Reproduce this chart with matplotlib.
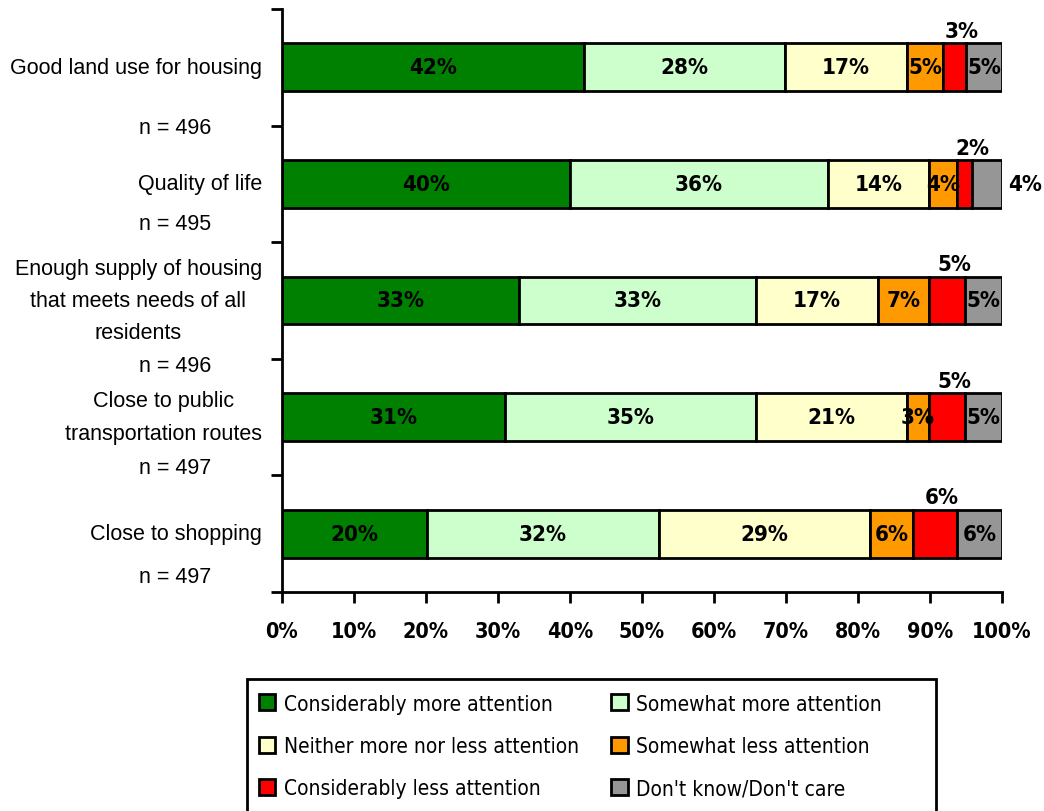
import matplotlib
matplotlib.use("Agg")
import matplotlib.pyplot as plt
from matplotlib.patches import Patch, Rectangle
import numpy as np

categories = [
    "Good land use for housing",
    "Quality of life",
    "Enough supply of housing\nthat meets needs of all\nresidents",
    "Close to public\ntransportation routes",
    "Close to shopping",
]
n_labels = ["n = 496", "n = 495", "n = 496", "n = 497", "n = 497"]
series_names = [
    "Considerably more attention",
    "Somewhat more attention",
    "Neither more nor less attention",
    "Somewhat less attention",
    "Considerably less attention",
    "Don't know/Don't care",
]
considerably_more = [41.9, 40.0, 32.9, 31.0, 20.1]
somewhat_more = [28.0, 35.8, 32.9, 34.8, 32.3]
neither = [16.9, 14.1, 17.0, 21.0, 29.3]
somewhat_less = [5.0, 3.9, 7.1, 3.1, 5.9]
considerably_less = [3.2, 2.1, 5.0, 5.0, 6.1]
dont_know = [5.0, 4.1, 5.1, 5.1, 6.3]
x_ticks = [0, 10, 20, 30, 40, 50, 60, 70, 80, 90, 100]
x_tick_labels = ["0%", "10%", "20%", "30%", "40%", "50%", "60%", "70%", "80%", "90%", "100%"]

series = [considerably_more, somewhat_more, neither, somewhat_less, considerably_less, dont_know]
colors = ["#008000", "#CCFFCC", "#FFFFCC", "#FF9900", "#FF0000", "#969696"]

NARROW = dict(family="DejaVu Sans", stretch="condensed")
REG = ["Liberation Sans", "DejaVu Sans"]
W, H = 1044, 812

fig = plt.figure(figsize=(W / 100, H / 100), dpi=100)
ax = fig.add_axes([282 / W, 219 / H, 720 / W, 583 / H])

ypos = np.arange(len(categories))
bar_h = 0.41
left = np.zeros(len(categories))
for si, vals in enumerate(series):
    vals = np.array(vals)
    ax.barh(ypos, vals, left=left, height=bar_h, color=colors[si],
            edgecolor="black", linewidth=2, zorder=2)
    for i, v in enumerate(vals):
        cx = left[i] + v / 2
        lab = f"{v:.0f}%"
        if si == 4:
            ax.text(cx + 1.0, ypos[i] - bar_h / 2 - 0.02, lab, ha="center", va="bottom",
                    fontsize=16, fontweight="bold", zorder=3, **NARROW)
        elif si == 5 and i == 1:
            ax.text(left[i] + v + 3.2, ypos[i], lab, ha="center", va="center",
                    fontsize=16, fontweight="bold", zorder=3, **NARROW)
        else:
            ax.text(cx, ypos[i], lab, ha="center", va="center",
                    fontsize=16, fontweight="bold", zorder=3, **NARROW)
    left = left + vals

ax.set_xlim(0, 100)
ax.set_ylim(len(categories) - 0.5, -0.5)
ax.set_xticks(x_ticks)
ax.set_xticklabels(x_tick_labels, fontsize=15.5, fontweight="bold", **NARROW)
ax.set_yticks(np.arange(-0.5, len(categories), 1.0))
ax.set_yticklabels([])
ax.tick_params(axis="both", direction="out", length=8, width=2, color="black")
ax.tick_params(axis="x", pad=13)
for s in ["top", "right"]:
    ax.spines[s].set_visible(False)
for s in ["left", "bottom"]:
    ax.spines[s].set_linewidth(2)

ytr = ax.get_yaxis_transform()
n_offsets = [0.515, 0.343, 0.557, 0.43, 0.37]
for i, (cat, nl) in enumerate(zip(categories, n_labels)):
    ax.text(-20 / 720, ypos[i], cat, transform=ytr, ha="right", va="center",
            multialignment="center", fontsize=15.5, family=REG, linespacing=1.7)
    ax.text(-107 / 720, ypos[i] + n_offsets[i], nl, transform=ytr, ha="center",
            va="center", fontsize=15.5, family=REG)

# legend frame (extends past the bottom edge as in the reference)
fig.patches.append(Rectangle((247 / W, -0.02), (936 - 247) / W, (812 - 680) / H + 0.02,
                             transform=fig.transFigure, facecolor="white",
                             edgecolor="black", linewidth=2, zorder=0))

handles = [Patch(facecolor=c, edgecolor="black", linewidth=2) for c in colors]
order = [0, 2, 4, 1, 3, 5]
leg = fig.legend([handles[k] for k in order], [series_names[k] for k in order],
                 ncol=2, loc="upper left", bbox_to_anchor=(242 / W, 1 - 678 / H),
                 frameon=False,
                 prop={"family": "DejaVu Sans", "stretch": "condensed", "size": 15},
                 handlelength=0.8, handleheight=0.8, handletextpad=0.4,
                 columnspacing=1.55, labelspacing=1.07, borderpad=0.3)

fig.savefig("out.png", dpi=100)
